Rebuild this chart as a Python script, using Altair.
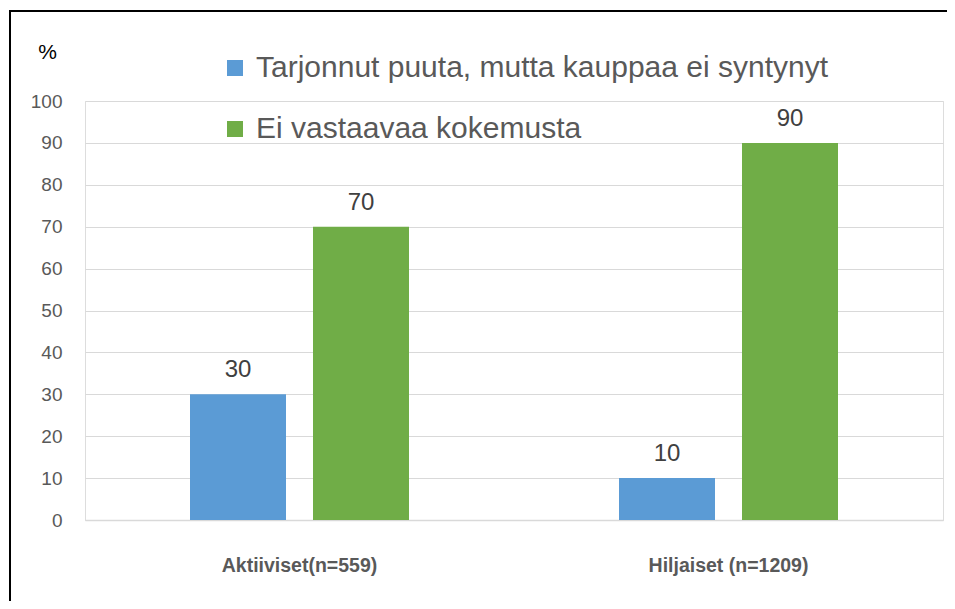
import altair as alt
import pandas as pd

groups = ["Aktiiviset(n=559)", "Hiljaiset (n=1209)"]
series = ["Tarjonnut puuta, mutta kauppaa ei syntynyt", "Ei vastaavaa kokemusta"]
tarjonnut = [30, 10]
ei_kokemusta = [70, 90]
colors = ["#5B9BD5", "#70AD47"]
y_ticks = list(range(0, 101, 10))

rows = []
for g, a, b in zip(groups, tarjonnut, ei_kokemusta):
    rows.append({"group": g, "series": series[0], "value": a})
    rows.append({"group": g, "series": series[1], "value": b})
df = pd.DataFrame(rows)

FONT = "Liberation Sans"

base = alt.Chart(df).encode(
    x=alt.X("group:N", sort=groups,
            scale=alt.Scale(paddingInner=0, paddingOuter=0),
            axis=alt.Axis(title=None, labelAngle=0, ticks=False,
                          domainColor="#D9D9D9", domainWidth=1.5,
                          labelFont=FONT, labelFontSize=19.5, labelFontWeight="bold",
                          labelColor="#595959", labelPadding=36, labelLimit=0)),
    xOffset=alt.XOffset("series:N", sort=series,
                        scale=alt.Scale(paddingInner=0.2195, paddingOuter=0.8537)),
    y=alt.Y("value:Q", scale=alt.Scale(domain=[0, 100], nice=False),
            axis=alt.Axis(values=y_ticks, domain=False, ticks=False,
                          gridColor="#D9D9D9", gridWidth=1.2,
                          labelFont=FONT, labelFontSize=19, labelColor="#595959",
                          labelPadding=23,
                          title="%", titleAngle=0, titleX=-38, titleY=-49,
                          titleFont=FONT, titleFontSize=21, titleFontWeight="normal",
                          titleColor="#000000", titleAlign="center",
                          titleBaseline="middle")),
)

bars = base.mark_bar().encode(
    color=alt.Color("series:N", sort=series,
                    scale=alt.Scale(domain=series, range=colors),
                    legend=alt.Legend(orient="none", legendX=135, legendY=-48,
                                      title=None, symbolType="square",
                                      symbolSize=256, symbolStrokeWidth=0,
                                      labelFont=FONT, labelFontSize=30,
                                      labelColor="#595959", labelOffset=6,
                                      rowPadding=31, padding=0,
                                      labelLimit=900))
)

labels = base.mark_text(font=FONT, fontSize=24, color="#404040",
                        baseline="alphabetic", dy=-17).encode(
    text=alt.Text("value:Q")
)

# chart frame: only its left and top edges fall inside the picture
frame_data = pd.DataFrame({"edge": ["left", "top"]})
left_edge = alt.Chart(frame_data).transform_filter(alt.datum.edge == "left").mark_rect(
    color="black", strokeWidth=0).encode(
    x=alt.value(-76), x2=alt.value(-74), y=alt.value(-91), y2=alt.value(500)
)
top_edge = alt.Chart(frame_data).transform_filter(alt.datum.edge == "top").mark_rect(
    color="black", strokeWidth=0).encode(
    x=alt.value(-76), x2=alt.value(862), y=alt.value(-91), y2=alt.value(-89)
)

chart = alt.layer(left_edge, top_edge, bars, labels).properties(
    width=858, height=419,
    padding={"left": 77, "top": 93, "right": 4, "bottom": 81},
    autosize=alt.AutoSizeParams(type="none"),
).configure_view(stroke=None).configure(background="white")

chart.save("out.html", embed_options={"renderer": "svg", "actions": False})
